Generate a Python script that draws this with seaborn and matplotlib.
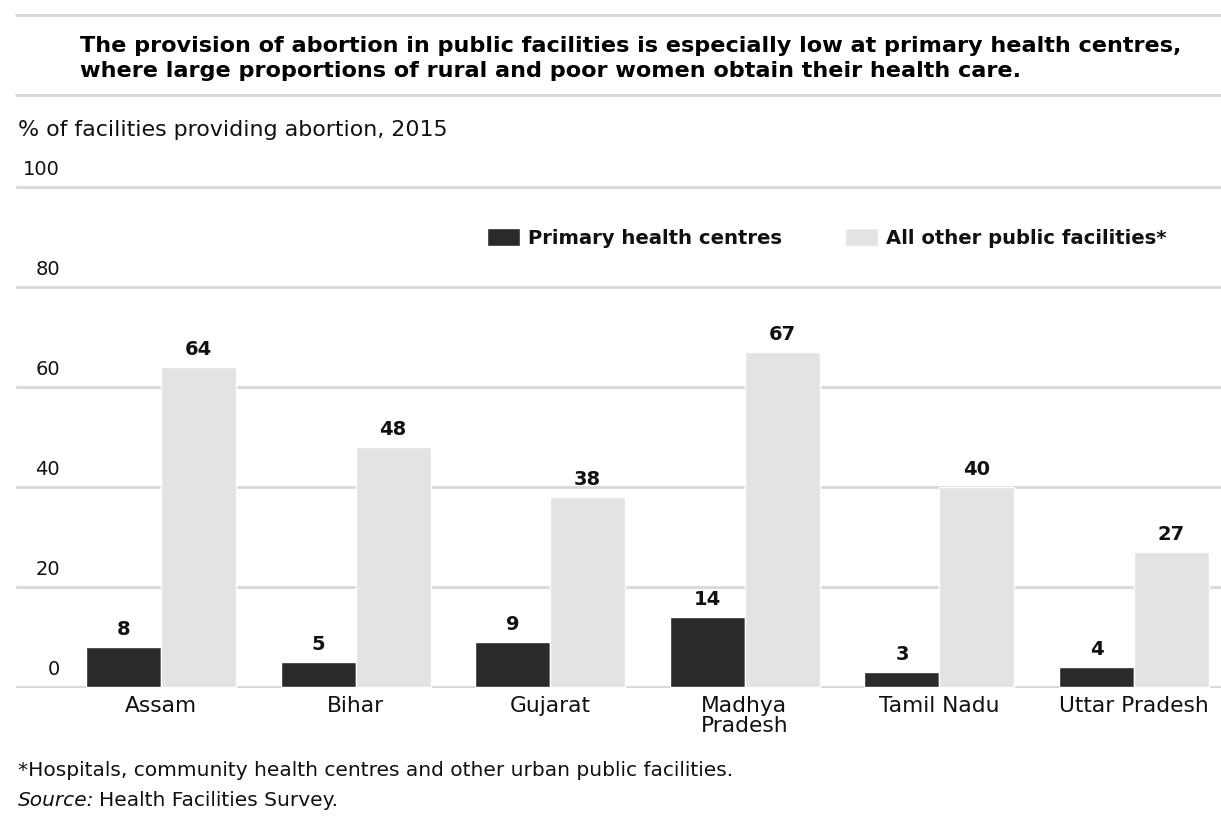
import matplotlib
matplotlib.use("Agg")
import matplotlib.pyplot as plt
from matplotlib.lines import Line2D
from matplotlib.transforms import ScaledTranslation
import seaborn as sns
import pandas as pd

states = ["Assam", "Bihar", "Gujarat", "Madhya\nPradesh", "Tamil Nadu", "Uttar Pradesh"]
phc = [8, 5, 9, 14, 3, 4]
other = [64, 48, 38, 67, 40, 27]
series = ["Primary health centres", "All other public facilities*"]
yticks = [0, 20, 40, 60, 80, 100]

title = ("The provision of abortion in public facilities is especially low at primary health centres,\n"
         "where large proportions of rural and poor women obtain their health care.")
subtitle = "% of facilities providing abortion, 2015"
footnote = "*Hospitals, community health centres and other urban public facilities."

df = pd.DataFrame({
    "state": states + states,
    "group": [series[0]] * len(states) + [series[1]] * len(states),
    "value": phc + other,
})

sns.set_theme(style="white")
plt.rcParams["font.family"] = ["DejaVu Sans"]
TXT = "#111111"

W, H = 1221, 816
fig = plt.figure(figsize=(W / 100, H / 100), dpi=100)
fig.patch.set_facecolor("white")
ax = fig.add_axes([16 / W, 128 / H, 1205 / W, 502 / H])
ax.set_facecolor("none")

sns.barplot(data=df, x="state", y="value", hue="group", order=states, hue_order=series,
            palette=["#2a2a2a", "#e3e3e3"], saturation=1, width=0.77, gap=0.0,
            ax=ax, legend=True)

for cont in ax.containers:
    ax.bar_label(cont, fmt="%d", padding=5.5, fontsize=14, fontweight="bold", color=TXT)

ax.set_xlim(-0.745, 5.447)
ax.set_ylim(-0.25, 100.25)
ax.set_yticks(yticks)
ax.set_xlabel("")
ax.set_ylabel("")
for s in ax.spines.values():
    s.set_visible(False)
ax.yaxis.grid(True, color="#d8d8d8", linewidth=2)
ax.set_axisbelow(True)
ax.tick_params(axis="x", length=0, pad=6, labelsize=15.7, labelcolor=TXT)
ax.tick_params(axis="y", length=0, pad=-31.7, labelsize=14, labelcolor=TXT)
for lbl in ax.get_xticklabels():
    lbl.set_linespacing(0.95)
    lbl.set_multialignment("left")
off = ScaledTranslation(0, 8 / 100, fig.dpi_scale_trans)
for lbl in ax.get_yticklabels():
    lbl.set_verticalalignment("bottom")
    lbl.set_transform(lbl.get_transform() + off)

handles, labels = ax.get_legend_handles_labels()
ax.legend(handles, labels, loc="center left", bbox_to_anchor=(487 / W, 1 - 238 / H),
          bbox_transform=fig.transFigure, ncol=2, frameon=False,
          prop={"weight": "bold", "size": 14.1}, handlelength=1.7, handleheight=1.05,
          handletextpad=0.4, columnspacing=3.2, borderpad=0, borderaxespad=0,
          labelcolor=TXT)

# rules
for yy in (15, 95):
    fig.add_artist(Line2D([16 / W, 1], [1 - yy / H] * 2, color="#d6d6d6", lw=2))

fig.text(80 / W, 1 - 58.5 / H, title, fontsize=16.1, fontweight="bold", color="black",
         va="center", linespacing=1.3)
fig.text(18 / W, 1 - 130 / H, subtitle, fontsize=15.9, color=TXT, va="center")
fig.text(18 / W, 1 - 771 / H, footnote, fontsize=14.5, color=TXT, va="center")
src = fig.text(18 / W, 1 - 800 / H, "Source:", fontsize=14.5, style="italic", color=TXT, va="center")
fig.canvas.draw()
bb = src.get_window_extent()
fig.text(bb.x1 / W + 5 / W, 1 - 800 / H, "Health Facilities Survey.", fontsize=14.5, color=TXT, va="center")

fig.savefig("out.png", dpi=100, facecolor="white")
